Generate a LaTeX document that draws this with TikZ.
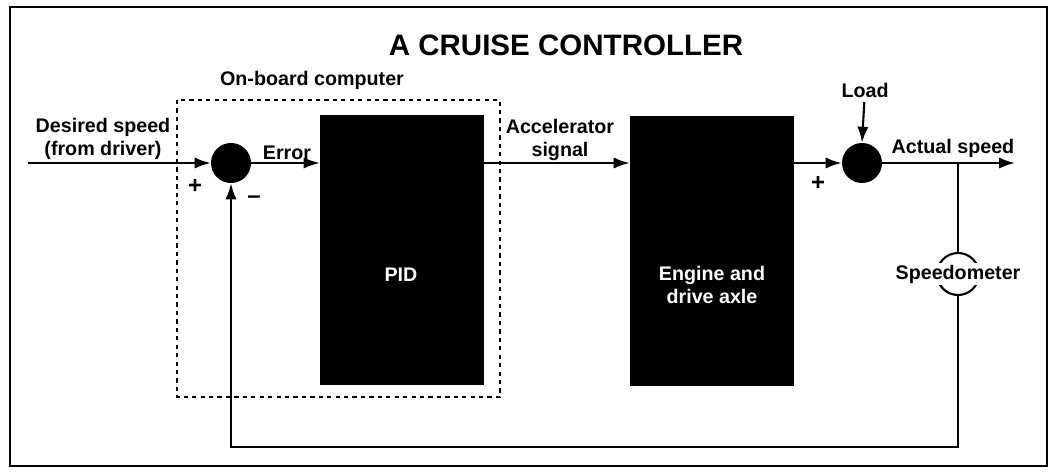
\documentclass[tikz,border=0pt]{standalone}
\usepackage{fontspec}
\setmainfont{Liberation Sans}
\usetikzlibrary{arrows.meta, positioning, calc}

\begin{document}
\begin{tikzpicture}[
    x=0.025cm, y=-0.025cm,
    every node/.style={font=\fontsize{14}{16}\selectfont\bfseries},
    blk/.style={rectangle, fill=black, minimum width=4.1cm, minimum height=6.75cm},
    sum/.style={circle, fill=black, minimum size=1cm, inner sep=0pt},
    lbl/.style={align=center, inner sep=1pt},
    sgn/.style={font=\fontsize{17}{18}\selectfont\bfseries},
    arr/.style={-{Latex[length=4mm, width=2.8mm]}, line width=1.5pt},
    ln/.style={line width=1.5pt}
]
\useasboundingbox (0,0) rectangle (1057,472);

% frame and title
\draw[line width=1.6pt] (10,7) rectangle (1047,466);
\node[font=\fontsize{21}{24}\selectfont\bfseries] (title) at (566,45) {A CRUISE CONTROLLER};

% on-board computer
\draw[line width=0.9pt, dash pattern=on 3pt off 3pt] (177,100) rectangle (500,397);
\node (obc) at (312,80) {On-board computer};

\node[sum] (sumA) at (231,163) {};
\node[sum] (sumB) at (862,163) {};
\node[blk] (pid) at (402,250) {};
\node[blk] (eng) at (712,251) {};
\node[text=white] (pidlbl) at (401,275) {PID};
\node[lbl, text=white] (englbl) at (712,285) {Engine and\\drive axle};

\node[lbl] (desired) at (103,139) {Desired speed\\(from driver)};
\node (error) at (287,153) {Error};
\node[lbl] (accel) at (560,140) {Accelerator\\signal};
\node (actual) at (953,148) {Actual speed};
\node (load) at (865,90) {Load};
\node[sgn] (plusA) at (195,186) {+};
\node[sgn] (minusA) at (254,200) {--};
\node[sgn] (plusB) at (818,183) {+};

\node[circle, draw, line width=1.5pt, minimum size=1.05cm] (speedo) at (958,274) {};
\node[fill=white, inner sep=1pt] (speedolbl) at (speedo) {Speedometer};

\coordinate (in) at (28,163);
\coordinate (out) at (1015,163);
\coordinate (br) at (958,163);
\coordinate (fbR) at (958,447);

\draw[arr] (in) -- (sumA.west);
\draw[arr] (sumA.east) -- (sumA.east -| pid.west);
\draw[arr] (sumA.east -| pid.east) -- (sumA.east -| eng.west);
\draw[arr] (sumA.east -| eng.east) -- (sumB.west);
\draw[arr] (sumB.east) -- (out);
\draw[arr] (load) -- (sumB.north);

\draw[ln] (br) -- (speedo.north);
\draw[arr] (speedo.south) -- (fbR) -| (sumA.south);

\end{tikzpicture}
\end{document}
